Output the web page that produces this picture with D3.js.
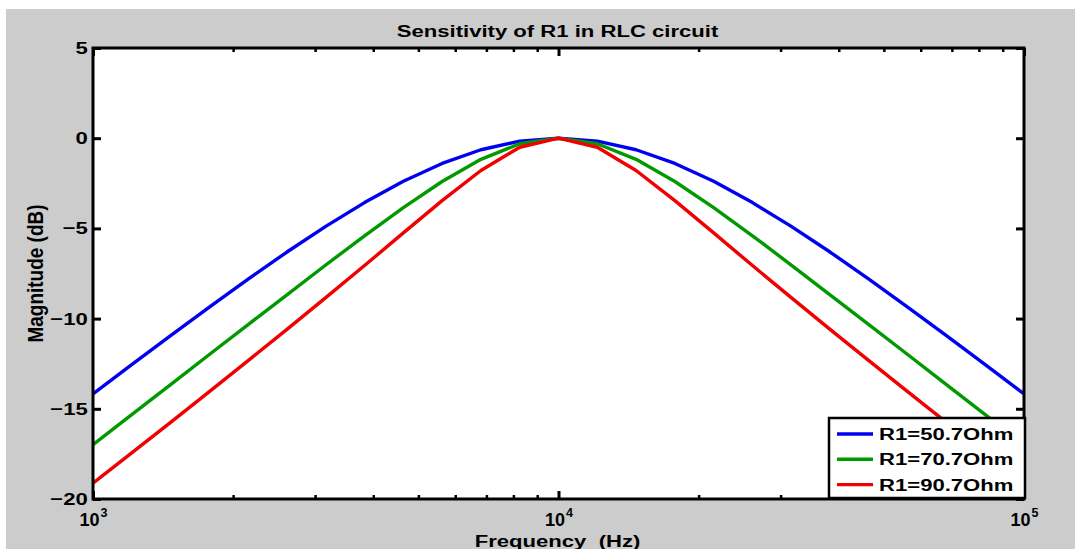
<!DOCTYPE html>
<html lang="en">
<head>
<meta charset="UTF-8">
<title>Sensitivity of R1 in RLC circuit</title>
<script src="https://d3js.org/d3.v7.min.js"></script>
<style>
  body { margin: 0; background: #fff; }
  svg text { font-family: "Liberation Sans", Arial, sans-serif; font-weight: bold; fill: #000; }
</style>
</head>
<body>
<svg width="1075" height="549"></svg>
<script>
// frequency samples (Hz), log spaced 1e3..1e5
const freq = [1000, 1211, 1468, 1778, 2154, 2610, 3162, 3831, 4642, 5623, 6813, 8254, 10000,
              12115, 14678, 17783, 21544, 26102, 31623, 38312, 46416, 56234, 68129, 82540, 100000];

// magnitude (dB)
const magR50 = [-14.18, -12.55, -10.94, -9.36, -7.81, -6.31, -4.89, -3.57, -2.39, -1.40, -0.64, -0.16, 0,
                -0.16, -0.64, -1.40, -2.39, -3.57, -4.89, -6.31, -7.81, -9.36, -10.94, -12.55, -14.18];
const magR70 = [-16.99, -15.32, -13.66, -11.99, -10.33, -8.68, -7.03, -5.41, -3.85, -2.40, -1.17, -0.31, 0,
                -0.31, -1.17, -2.40, -3.85, -5.41, -7.03, -8.68, -10.33, -11.99, -13.66, -15.32, -16.99];
const magR90 = [-19.12, -17.44, -15.75, -14.05, -12.33, -10.60, -8.84, -7.06, -5.25, -3.46, -1.79, -0.50, 0,
                -0.50, -1.79, -3.46, -5.25, -7.06, -8.84, -10.60, -12.33, -14.05, -15.75, -17.44, -19.12];

const seriesNames = ["R1=50.7Ohm", "R1=70.7Ohm", "R1=90.7Ohm"];
const seriesColors = ["#0000f0", "#009a00", "#f00000"];

const xMajor = [1e3, 1e4, 1e5];
const yTicks = [-20, -15, -10, -5, 0, 5];

const svg = d3.select("svg");
const stretch = 1.3; // text in the source is horizontally wide

const x = d3.scaleLog().domain([1e3, 1e5]).range([93, 1024]);
const y = d3.scaleLinear().domain([-20, 5]).range([499, 48]);
const xMinor = x.ticks().filter(v => !xMajor.includes(v));

// figure background
svg.append("rect").attr("x", 6).attr("y", 9).attr("width", 1069).attr("height", 540).attr("fill", "#cccccc");
svg.append("rect")
    .attr("x", x.range()[0]).attr("y", y.range()[1])
    .attr("width", x.range()[1] - x.range()[0])
    .attr("height", y.range()[0] - y.range()[1])
    .attr("fill", "#fff");

svg.append("defs").append("clipPath").attr("id", "plot")
  .append("rect")
    .attr("x", x.range()[0]).attr("y", y.range()[1])
    .attr("width", x.range()[1] - x.range()[0])
    .attr("height", y.range()[0] - y.range()[1]);

// curves
const line = d3.line().x((d, i) => x(freq[i])).y(d => y(d));
const curves = svg.append("g").attr("clip-path", "url(#plot)");
[magR50, magR70, magR90].forEach((s, i) => {
  curves.append("path")
      .attr("d", line(s))
      .attr("fill", "none")
      .attr("stroke", seriesColors[i])
      .attr("stroke-width", 3.4)
      .attr("stroke-linejoin", "round");
});

// axes: ticks point inward on all four sides
function styleAxis(g, w) {
  g.select(".domain").remove();
  g.selectAll(".tick line").attr("stroke", "#000").attr("stroke-width", w);
}
svg.append("g").attr("transform", `translate(0,${y(-20)})`)
    .call(d3.axisBottom(x).tickValues(xMinor).tickSize(-4).tickFormat(""))
    .call(g => styleAxis(g, 2.5));
svg.append("g").attr("transform", `translate(0,${y(5)})`)
    .call(d3.axisTop(x).tickValues(xMinor).tickSize(-4).tickFormat(""))
    .call(g => styleAxis(g, 2.5));
svg.append("g").attr("transform", `translate(0,${y(5)})`)
    .call(d3.axisTop(x).tickValues(xMajor).tickSize(-8).tickFormat(""))
    .call(g => styleAxis(g, 3));

const xAxis = svg.append("g").attr("transform", `translate(0,${y(-20)})`)
    .call(d3.axisBottom(x).tickValues(xMajor).tickSize(-8).tickFormat(""))
    .call(g => styleAxis(g, 3));
xAxis.selectAll(".tick text").remove();
xAxis.selectAll(".tick").append("text")
    .attr("y", 27)
    .attr("text-anchor", "middle")
    .style("font-size", "18px")
    .each(function(d) {
      const t = d3.select(this);
      t.append("tspan").text("10");
      t.append("tspan").attr("dx", 1).attr("dy", -9).style("font-size", "12.5px")
        .text(Math.round(Math.log10(d)));
    });

const yAxis = svg.append("g").attr("transform", `translate(${x(1e3)},0)`)
    .call(d3.axisLeft(y).tickValues(yTicks).tickSize(-8).tickPadding(4))
    .call(g => styleAxis(g, 3));
yAxis.selectAll(".tick text")
    .attr("transform", `scale(${stretch},1)`)
    .attr("fill", "#000")
    .style("font-size", "17px")
    .style("font-family", null);
svg.append("g").attr("transform", `translate(${x(1e5)},0)`)
    .call(d3.axisRight(y).tickValues(yTicks).tickSize(-8).tickFormat(""))
    .call(g => styleAxis(g, 3));

// box
svg.append("rect")
    .attr("x", x.range()[0]).attr("y", y.range()[1])
    .attr("width", x.range()[1] - x.range()[0])
    .attr("height", y.range()[0] - y.range()[1])
    .attr("fill", "none").attr("stroke", "#000").attr("stroke-width", 3);

function label(str, px, py, size) {
  return svg.append("text")
      .attr("transform", `translate(${px},${py}) scale(${stretch},1)`)
      .attr("text-anchor", "middle")
      .style("font-size", size + "px")
      .text(str);
}
const cx = (x.range()[0] + x.range()[1]) / 2;
label("Sensitivity of R1 in RLC circuit", cx - 1, 37, 17);
label("Frequency\u00a0\u00a0(Hz)", cx - 1, 547, 17);
svg.append("text")
    .attr("transform", `translate(43,${(y.range()[0] + y.range()[1]) / 2}) rotate(-90) scale(1,1.2)`)
    .attr("text-anchor", "middle")
    .style("font-size", "19px")
    .text("Magnitude (dB)");

// legend
const legW = 196, legH = 80;
const legend = svg.append("g")
    .attr("transform", `translate(${x(1e5) - legW + 1},${y(-20) - legH - 1})`);
legend.append("rect")
    .attr("width", legW).attr("height", legH)
    .attr("fill", "#fff").attr("stroke", "#000").attr("stroke-width", 2.5);
seriesNames.forEach((name, i) => {
  const ly = 16 + i * 25.3;
  legend.append("line")
      .attr("x1", 8).attr("x2", 44).attr("y1", ly).attr("y2", ly)
      .attr("stroke", seriesColors[i]).attr("stroke-width", 3.4);
  legend.append("text")
      .attr("transform", `translate(50,${ly + 6}) scale(${stretch},1)`)
      .style("font-size", "17px")
      .text(name);
});
</script>
</body>
</html>
